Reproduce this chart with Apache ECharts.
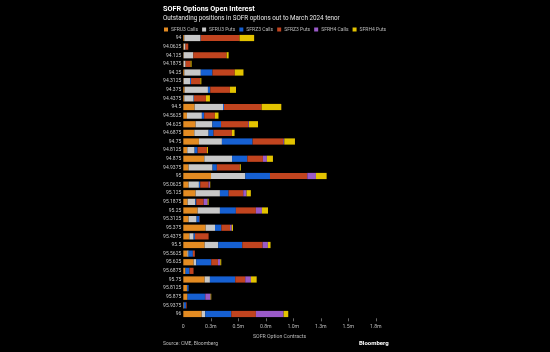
<!DOCTYPE html>
<html>
<head>
<meta charset="utf-8">
<script src="https://cdn.jsdelivr.net/npm/echarts@6/dist/echarts.min.js"></script>
<style>
	html, body {margin:0; padding:0; background:#000;}
	#chart {width:550px; height:352px;}
</style>
</head>
<body>
<div id="chart"></div>
<script>
// strikes, top to bottom
var strikes = ['94','94.0625','94.125','94.1875','94.25','94.3125','94.375','94.4375','94.5','94.5625','94.625','94.6875','94.75','94.8125','94.875','94.9375','95','95.0625','95.125','95.1875','95.25','95.3125','95.375','95.4375','95.5','95.5625','95.625','95.6875','95.75','95.8125','95.875','95.9375','96'];

// open interest, thousands of contracts
var sfru3Calls = [9,5,3,3,9,3,12,9,103,33,112,100,142,36,191,48,252,48,112,39,130,48,203,55,194,36,94,18,194,33,36,3,167];
var sfru3Puts  = [148,15,88,18,150,58,212,85,258,136,152,130,209,67,252,218,312,94,221,70,203,73,85,39,124,12,24,3,48,3,3,3,33];
var sfrz3Calls = [2,0,0,0,106,9,21,3,9,21,79,45,279,27,139,39,224,12,79,9,145,27,58,12,218,39,136,36,230,12,158,18,236];
var sfrz3Puts  = [352,25,303,45,203,85,179,109,342,97,248,167,279,85,142,209,339,76,133,67,182,3,79,124,185,18,61,36,91,0,3,6,224];
var sfrh4Calls = [0,0,0,0,0,0,0,0,0,0,6,0,9,0,36,0,79,12,30,36,55,0,15,0,48,0,21,0,52,0,48,0,252];
var sfrh4Puts  = [133,0,18,9,79,9,55,36,179,33,82,24,97,9,55,9,97,3,39,9,55,0,12,0,24,0,9,0,52,0,6,0,42];

var tickValues = [250,500,750,1000,1250,1500,1750];

var seriesNames = ['SFRU3 Calls','SFRU3 Puts','SFRZ3 Calls','SFRZ3 Puts','SFRH4 Calls','SFRH4 Puts'],
	seriesData = [sfru3Calls, sfru3Puts, sfrz3Calls, sfrz3Puts, sfrh4Calls, sfrh4Puts],
	colors = ['#e38b22','#c8c8c8','#1660d2','#c1441f','#9a5ac8','#e3c300'];

var chart = echarts.init(document.querySelector('#chart'));

var series = [];
for (var i = 0; i < seriesNames.length; i++) {
	series.push({
		name: seriesNames[i],
		type: 'bar',
		stack: 'oi',
		barCategoryGap: '28%',
		data: seriesData[i],
		itemStyle: {color: colors[i]}
	});
}

var option = {
	backgroundColor: '#000',
	animation: false,
	color: colors,
	textStyle: {fontFamily: 'Roboto'},
	title: [
		{
			text: 'SOFR Options Open Interest',
			subtext: 'Outstanding positions in SOFR options out to March 2024 tenor',
			left: 158,
			top: 1,
			itemGap: 2,
			textStyle: {color: '#fff', fontSize: 7.3, fontWeight: 'bold'},
			subtextStyle: {color: '#e6e6e6', fontSize: 6.3}
		},
		{
			text: 'Source: CME, Bloomberg',
			left: 158,
			top: 336,
			textStyle: {color: '#bbb', fontSize: 5, fontWeight: 'normal'}
		},
		{
			text: 'Bloomberg',
			left: 354,
			top: 335,
			textStyle: {color: '#fff', fontSize: 6, fontWeight: 'bold'}
		}
	],
	legend: {
		left: 164,
		top: 27,
		padding: 0,
		icon: 'rect',
		itemWidth: 4,
		itemHeight: 4,
		itemGap: 4,
		textStyle: {color: '#bbb', fontSize: 5, padding: [0, 0, 0, -2]},
		data: seriesNames
	},
	grid: {
		left: 183.3,
		right: 174.2,
		top: 33.7,
		bottom: 33.7
	},
	xAxis: {
		type: 'value',
		min: 0,
		max: 1750,
		interval: 250,
		name: 'SOFR Option Contracts',
		nameLocation: 'middle',
		nameGap: 13,
		nameTextStyle: {color: '#bbb', fontSize: 5.2},
		axisLine: {show: false},
		axisTick: {show: true, length: 3, customValues: tickValues, lineStyle: {color: '#666', width: 1}},
		splitLine: {show: false},
		axisLabel: {
			color: '#bbb',
			fontSize: 5.2,
			margin: 6,
			formatter: function(v){
				return v === 0 ? '0' : (v / 1000).toFixed(1) + 'm';
			}
		}
	},
	yAxis: {
		type: 'category',
		inverse: true,
		data: strikes,
		axisLine: {show: false},
		axisTick: {show: false},
		axisLabel: {color: '#ccc', fontSize: 5, margin: 2}
	},
	series: series
};

chart.setOption(option);
</script>
</body>
</html>
